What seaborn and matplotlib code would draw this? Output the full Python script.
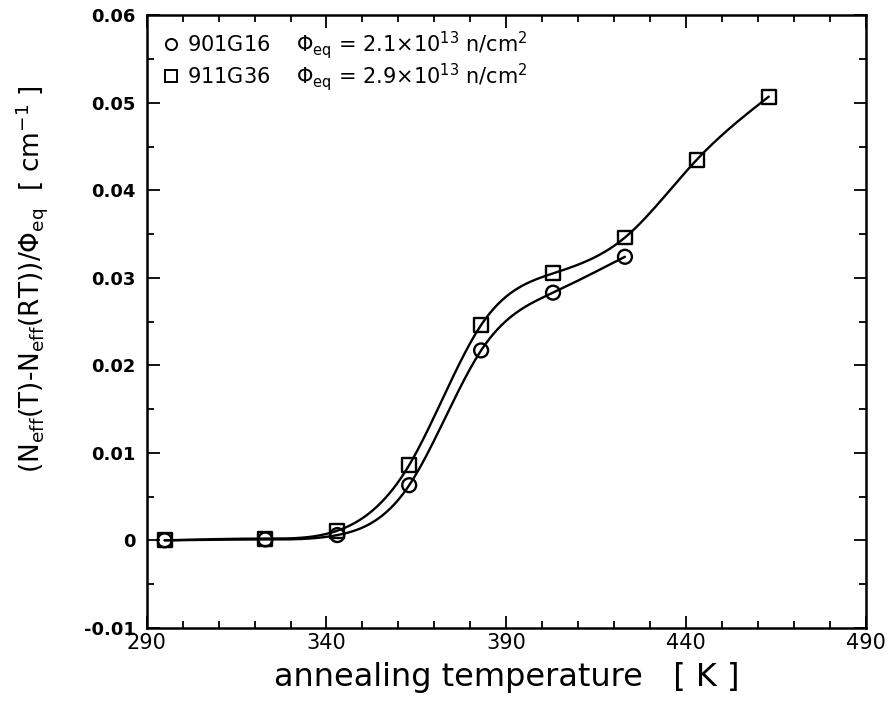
import numpy as np
import pandas as pd
import matplotlib
matplotlib.use("Agg")
import matplotlib.pyplot as plt
from matplotlib import ticker
from matplotlib.lines import Line2D
import seaborn as sns

# annealing temperature [K] and normalised change of N_eff [cm^-1]
temp_901 = [295, 323, 343, 363, 383, 403, 423]
neff_901 = [0.0000, 0.0001, 0.0006, 0.0063, 0.0217, 0.0283, 0.0324]

temp_911 = [295, 323, 343, 363, 383, 403, 423, 443, 463]
neff_911 = [0.0000, 0.0002, 0.0011, 0.0086, 0.0246, 0.0305, 0.0346, 0.0435, 0.0507]

x_ticks = [290, 340, 390, 440, 490]
labels = [r"901G16    $\Phi_{\mathrm{eq}}$ = 2.1$\times$10$^{13}$ n/cm$^2$",
          r"911G36    $\Phi_{\mathrm{eq}}$ = 2.9$\times$10$^{13}$ n/cm$^2$"]


def natural_spline(x, y, n=300):
    # smooth curve through the measured points (natural cubic spline)
    x = np.asarray(x, float)
    y = np.asarray(y, float)
    h = np.diff(x)
    k = len(x)
    A = np.zeros((k, k))
    b = np.zeros(k)
    A[0, 0] = A[-1, -1] = 1
    for i in range(1, k - 1):
        A[i, i - 1] = h[i - 1]
        A[i, i] = 2 * (h[i - 1] + h[i])
        A[i, i + 1] = h[i]
        b[i] = 6 * ((y[i + 1] - y[i]) / h[i] - (y[i] - y[i - 1]) / h[i - 1])
    m = np.linalg.solve(A, b)
    xs = np.linspace(x[0], x[-1], n)
    idx = np.clip(np.searchsorted(x, xs) - 1, 0, k - 2)
    x0, x1 = x[idx], x[idx + 1]
    hh = x1 - x0
    t0, t1 = x1 - xs, xs - x0
    ys = (m[idx] * t0**3 + m[idx + 1] * t1**3) / (6 * hh) \
        + (y[idx] / hh - m[idx] * hh / 6) * t0 \
        + (y[idx + 1] / hh - m[idx + 1] * hh / 6) * t1
    return xs, ys


sns.set_style("ticks")
plt.rcParams["font.family"] = ["DejaVu Sans"]
plt.rcParams["axes.unicode_minus"] = False
plt.rcParams["text.color"] = "black"
plt.rcParams["axes.labelcolor"] = "black"
plt.rcParams["xtick.color"] = "black"
plt.rcParams["ytick.color"] = "black"
plt.rcParams["axes.edgecolor"] = "black"

fig = plt.figure(figsize=(8.89, 7.25), dpi=100)
ax = fig.add_axes([0.165, 0.134, 0.809, 0.845])

for tx, ny in [(temp_901, neff_901), (temp_911, neff_911)]:
    xs, ys = natural_spline(tx, ny)
    sns.lineplot(x=xs, y=ys, ax=ax, color="black", linewidth=1.7, sort=False)

df1 = pd.DataFrame({"T": temp_901, "n": neff_901})
df2 = pd.DataFrame({"T": temp_911, "n": neff_911})
sns.scatterplot(data=df1, x="T", y="n", ax=ax, marker="o", s=100,
                facecolor="none", edgecolor="black", linewidth=1.7, zorder=3)
sns.scatterplot(data=df2, x="T", y="n", ax=ax, marker="s", s=100,
                facecolor="none", edgecolor="black", linewidth=1.7, zorder=3)

ax.set_xlim(290, 490)
ax.set_ylim(-0.01, 0.06)
ax.set_xticks(x_ticks)
ax.xaxis.set_minor_locator(ticker.MultipleLocator(10))
ax.yaxis.set_major_locator(ticker.MultipleLocator(0.01))
ax.yaxis.set_minor_locator(ticker.MultipleLocator(0.005))
ax.yaxis.set_major_formatter(ticker.FuncFormatter(
    lambda v, _: "0" if abs(v) < 1e-9 else f"{v:.2f}"))
ax.tick_params(which="both", direction="in", top=True, right=True, width=1.3)
ax.tick_params(which="major", length=9)
ax.tick_params(which="minor", length=5)
ax.tick_params(axis="y", labelsize=13, pad=8)
ax.tick_params(axis="x", labelsize=15, pad=4)
for lab in ax.get_yticklabels():
    lab.set_fontweight("bold")
for sp in ax.spines.values():
    sp.set_linewidth(1.8)

ax.set_xlabel("annealing temperature   [ K ]", fontsize=23, labelpad=6)
ax.set_ylabel(r"(N$_{\mathrm{eff}}$(T)-N$_{\mathrm{eff}}$(RT))/$\Phi_{\mathrm{eq}}$  [ cm$^{-1}$ ]",
              fontsize=19)
ax.yaxis.set_label_coords(-0.135, 0.57)

handles = [Line2D([], [], marker="o", linestyle="none", markersize=8,
                  markerfacecolor="none", markeredgecolor="black", markeredgewidth=1.4),
           Line2D([], [], marker="s", linestyle="none", markersize=8,
                  markerfacecolor="none", markeredgecolor="black", markeredgewidth=1.4)]
ax.legend(handles, labels, loc="upper left", frameon=False, fontsize=15,
          handletextpad=0.3, handlelength=1.0, labelspacing=0.0,
          borderaxespad=0.25)

fig.savefig("out.png", dpi=100)
